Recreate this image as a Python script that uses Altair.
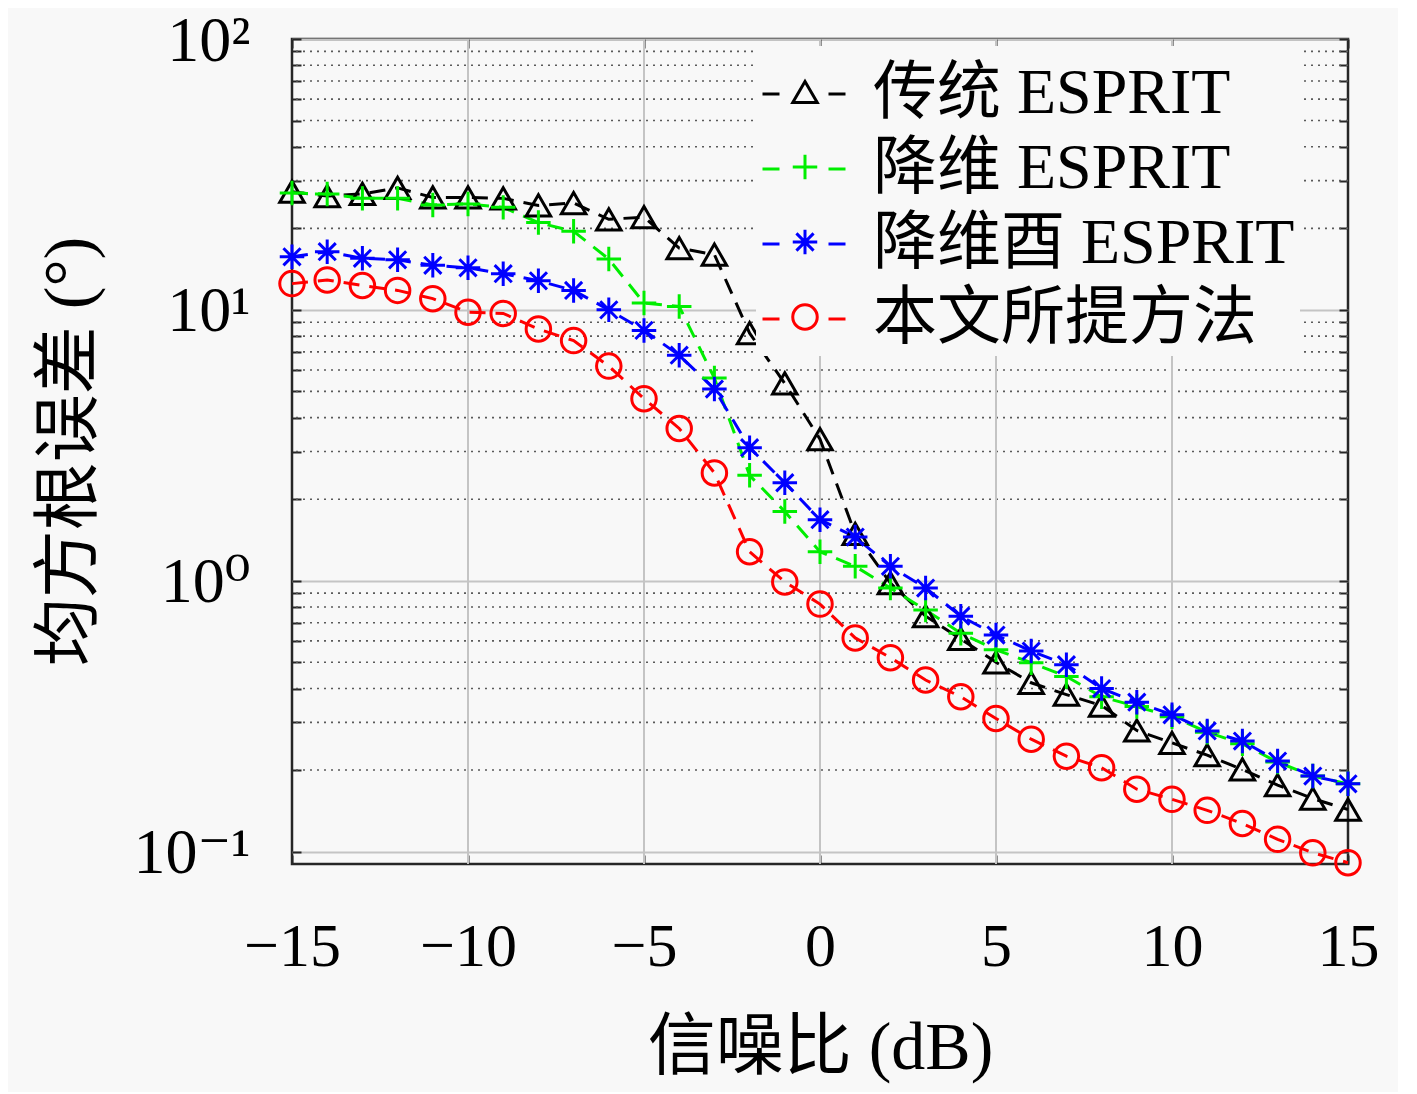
import altair as alt
import pandas as pd

FONT = "Liberation Serif, DejaVu Serif, Noto Sans CJK SC"
BG = "#f8f8f8"
W, H = 1056, 825

snr = list(range(-15, 16))
methods = ["传统 ESPRIT", "降维 ESPRIT", "降维酉 ESPRIT", "本文所提方法"]
# marker legend keys (kept distinct from the line legend so the two are not merged)
markers = [m + "\u200b" for m in methods]

rmse_esprit = [27.3, 26.3, 26.8, 28.2, 26.0, 26.0, 25.8, 24.3, 24.8, 21.6, 22.0,
               16.9, 16.0, 8.2, 5.35, 3.33, 1.49, 0.98, 0.74, 0.61, 0.50,
               0.42, 0.38, 0.346, 0.28, 0.252, 0.227, 0.201, 0.176, 0.157, 0.143]
rmse_rd = [27.0, 26.8, 25.8, 25.8, 24.4, 24.6, 23.9, 21.0, 19.5, 15.4, 10.6,
           10.3, 5.6, 2.45, 1.8, 1.28, 1.13, 0.94, 0.78, 0.64, 0.556,
           0.498, 0.443, 0.373, 0.343, 0.315, 0.276, 0.25, 0.214, 0.19, 0.178]
rmse_rdu = [15.7, 16.4, 15.5, 15.3, 14.6, 14.3, 13.6, 12.8, 11.8, 10.0, 8.4,
            6.8, 5.1, 3.1, 2.3, 1.68, 1.45, 1.13, 0.94, 0.74, 0.63,
            0.55, 0.49, 0.40, 0.356, 0.32, 0.279, 0.256, 0.216, 0.19, 0.178]
rmse_prop = [12.5, 12.9, 12.3, 11.8, 11.0, 9.8, 9.7, 8.5, 7.7, 6.2, 4.7,
             3.65, 2.5, 1.28, 0.99, 0.82, 0.615, 0.52, 0.43, 0.373, 0.31,
             0.26, 0.225, 0.204, 0.17, 0.156, 0.142, 0.127, 0.111, 0.099, 0.091]

colors = ["#000000", "#00ee00", "#0000ff", "#ff0000"]
plus_path = "M-1,0H1M0,-1V1"
star_path = "M-1,0H1M0,-1V1M-0.7,-0.7L0.7,0.7M-0.7,0.7L0.7,-0.7"
shapes = ["triangle-up", plus_path, star_path, "circle"]

x_ticks = [-15, -10, -5, 0, 5, 10, 15]
x_grid = [-10, -5, 0, 5, 10]
major_y = [0.1, 1, 10, 100]
minor_y = [0.2, 0.3, 0.4, 0.5, 0.6, 0.7, 0.8, 0.9,
           2, 3, 4, 5, 6, 7, 8, 9,
           20, 30, 40, 50, 60, 70, 80, 90]

rows = []
series = [rmse_esprit, rmse_rd, rmse_rdu, rmse_prop]
for i, (name, mk, vals) in enumerate(zip(methods, markers, series)):
    for s, v in zip(snr, vals):
        rows.append({"snr": s, "rmse": v, "method": name, "marker": mk, "k": i})
df = pd.DataFrame(rows)
minor_df = pd.DataFrame({"rmse": minor_y})
vgrid_df = pd.DataFrame({"snr": x_grid})

y_scale = alt.Scale(type="log", domain=[0.09, 100], nice=False)
x_scale = alt.Scale(domain=[-15, 15], nice=False)

# main axes with labels
y_axis = alt.Axis(
    values=major_y, labelFlush=False, grid=True, ticks=False,
    labelBaseline="alphabetic", labelOffset=21,
    labelExpr="'10' + (datum.value > 50 ? '²' : datum.value > 5 ? '¹' : datum.value > 0.5 ? '⁰' : '⁻¹')",
    title="均方根误差 (°)", titleX=-222, titleY=412, titleAngle=270,
    titleAlign="center", titleBaseline="middle",
)
x_axis = alt.Axis(values=x_ticks, title="信噪比 (dB)", grid=False, ticks=False,
                  labelFlush=False, titleX=528, titleY=184, titleBaseline="middle")


# inward ticks on the box edges
def tick_axis(orient, offset, values):
    return alt.Axis(orient=orient, offset=offset, values=values, labels=False,
                    grid=False, ticks=True, tickSize=9, tickWidth=2,
                    tickColor="#262626", domain=False, title=None)


line_legend = alt.Legend(
    orient="none", legendX=464, legendY=7, title=None,
    symbolType="stroke", symbolSize=6889, symbolStrokeWidth=3,
    symbolDash=[17, 49],
    labelFont=FONT, labelFontSize=64, labelOffset=26, labelLimit=0,
    padding=5, rowPadding=0, fillColor=BG,
)
# markers drawn over the middle of the dashed legend lines, no labels of their own
marker_legend = alt.Legend(
    orient="none", legendX=476, legendY=16, title=None,
    symbolSize=600, symbolStrokeWidth=3,
    labelFont=FONT, labelFontSize=64, labelLimit=0, labelExpr="''",
    padding=5, rowPadding=11,
)

hgrid = alt.Chart(minor_df).mark_rule(
    strokeDash=[2, 5], color="#5a5a5a", strokeWidth=1.6
).encode(y=alt.Y("rmse:Q", scale=y_scale,
                 axis=tick_axis("right", -W, major_y + minor_y)))

vgrid = alt.Chart(vgrid_df).mark_rule(color="#c4c4c4", strokeWidth=2).encode(
    x=alt.X("snr:Q", scale=x_scale, axis=tick_axis("top", -H, x_ticks)))

lines = alt.Chart(df).mark_line(strokeWidth=3, strokeDash=[16, 10]).encode(
    x=alt.X("snr:Q", scale=x_scale, axis=tick_axis("bottom", -H, x_ticks)),
    y=alt.Y("rmse:Q", scale=y_scale, axis=tick_axis("left", -W, major_y + minor_y)),
    color=alt.Color("method:N", scale=alt.Scale(domain=methods, range=colors),
                    legend=line_legend),
    order="k:Q",
)

points = alt.Chart(df).mark_point(filled=False, size=600, strokeWidth=3, opacity=1).encode(
    x=alt.X("snr:Q", scale=x_scale, axis=x_axis),
    y=alt.Y("rmse:Q", scale=y_scale, axis=y_axis),
    shape=alt.Shape("marker:N", scale=alt.Scale(domain=markers, range=shapes),
                    legend=marker_legend),
    stroke=alt.Stroke("marker:N", scale=alt.Scale(domain=markers, range=colors),
                      legend=marker_legend),
)

chart = alt.layer(hgrid, vgrid, lines, points).resolve_axis(
    x="independent", y="independent"
).properties(
    width=W, height=H,
    autosize=alt.AutoSizeParams(type="none"),
    padding={"left": 284, "top": 31, "right": 50, "bottom": 228},
).configure(
    background=BG,
    font=FONT,
).configure_view(
    stroke="#262626", strokeWidth=2.5, fill=BG,
).configure_axis(
    labelFont=FONT, titleFont=FONT, labelColor="#000", titleColor="#000",
    labelFontSize=62, titleFontSize=68, titleFontWeight="normal",
    gridColor="#c4c4c4", gridWidth=2, domain=False,
).configure_axisX(
    labelPadding=52,
).configure_axisY(
    labelPadding=42, labelFontSize=64,
)

chart.save("out.html", embed_options={"renderer": "svg", "actions": False})
